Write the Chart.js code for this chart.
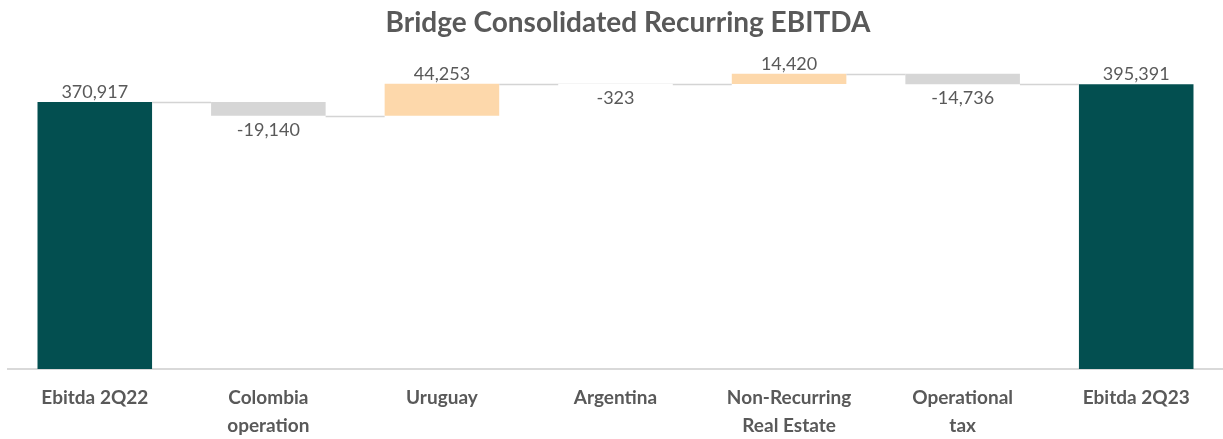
<!DOCTYPE html>
<html>
<head>
<meta charset="utf-8">
<script src="https://cdn.jsdelivr.net/npm/chart.js@4.4.0/dist/chart.umd.min.js"></script>
<style>
  body { margin: 0; background: #fff; }
  #wrap { position: relative; width: 1223px; height: 439px; }
  #title {
    position: absolute; left: 0; top: 4px; width: 1256px;
    text-align: center; font: bold 28px/34px Lato; color: #595959;
  }
</style>
</head>
<body>
<div id="wrap">
  <div id="title">Bridge Consolidated Recurring EBITDA</div>
  <canvas id="myChart"></canvas>
</div>
<script>
var categories = ['Ebitda 2Q22', ['Colombia', 'operation'], 'Uruguay', 'Argentina', ['Non-Recurring', 'Real Estate'], ['Operational', 'tax'], 'Ebitda 2Q23'];
var values = [370917, -19140, 44253, -323, 14420, -14736, 395391];
var kinds = ['total', 'delta', 'delta', 'delta', 'delta', 'delta', 'total'];

var teal = '#034f50', up = '#fdd8ab', down = '#d6d6d6';

// build floating bars from the running total
var ranges = [], colors = [], ends = [];
var run = 0;
for (var i in values) {
  if (kinds[i] == 'total') {
    ranges.push([0, values[i]]);
    run = values[i];
    colors.push(teal);
  } else {
    ranges.push([run, run + values[i]]);
    run = run + values[i];
    colors.push(values[i] >= 0 ? up : down);
  }
  ends.push(run);
}

function fmt(v) {
  return v.toLocaleString('en-US');
}

var bridgePlugin = {
  id: 'bridge',
  afterDatasetsDraw: function(chart) {
    var ctx = chart.ctx;
    var meta = chart.getDatasetMeta(0);
    var ys = chart.scales.y;

    // connectors
    ctx.save();
    ctx.strokeStyle = '#d4d4d4';
    ctx.lineWidth = 1.5;
    for (var i = 0; i < meta.data.length - 1; i++) {
      var a = meta.data[i], b = meta.data[i + 1];
      var y = Math.round(ys.getPixelForValue(ends[i])) + 0.5;
      ctx.beginPath();
      ctx.moveTo(a.x + a.width / 2, y);
      ctx.lineTo(b.x - b.width / 2, y);
      ctx.stroke();
    }
    ctx.restore();

    // value labels
    ctx.save();
    ctx.font = '18px Lato';
    ctx.fillStyle = '#595959';
    ctx.textAlign = 'center';
    for (var j = 0; j < meta.data.length; j++) {
      var el = meta.data[j];
      var top = ys.getPixelForValue(Math.max(ranges[j][0], ranges[j][1]));
      var bottom = ys.getPixelForValue(Math.min(ranges[j][0], ranges[j][1]));
      if (values[j] >= 0) {
        ctx.textBaseline = 'alphabetic';
        ctx.fillText(fmt(values[j]), el.x, top - 4);
      } else {
        ctx.textBaseline = 'top';
        ctx.fillText(fmt(values[j]), el.x, bottom + 5);
      }
    }
    ctx.restore();
  }
};

var chartdata = {
  labels: categories,
  datasets: [{
    label: 'EBITDA',
    data: ranges,
    backgroundColor: colors,
    borderWidth: 0,
    barPercentage: 0.66,
    categoryPercentage: 1
  }]
};

var ctx = document.getElementById('myChart');

var barGraph = new Chart(ctx, {
  type: 'bar',
  data: chartdata,
  plugins: [bridgePlugin],
  options: {
    responsive: true,
    maintainAspectRatio: false,
    animation: false,
    layout: { padding: { left: 8, right: 0, top: 45, bottom: 0 } },
    plugins: {
      legend: { display: false },
      tooltip: { enabled: false },
      title: { display: false }
    },
    scales: {
      x: {
        grid: { display: false, drawTicks: false },
        border: { display: true, color: '#d9d9d9', width: 2 },
        ticks: {
          color: '#595959',
          padding: 15,
          maxRotation: 0,
          autoSkip: false,
          font: { family: 'Lato', size: 19, weight: 'bold', lineHeight: '28px' }
        },
        afterFit: function(scale) { scale.height = 70; }
      },
      y: {
        display: false,
        min: 0,
        max: 450000
      }
    }
  }
});
</script>
</body>
</html>
